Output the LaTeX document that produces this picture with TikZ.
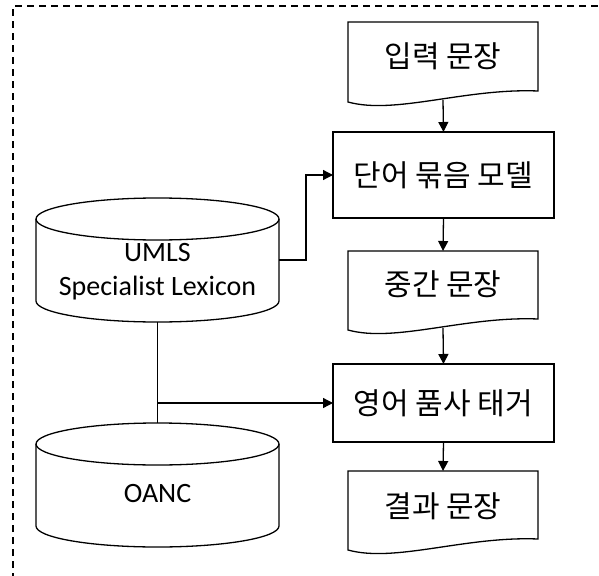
\documentclass[tikz,border=0pt]{standalone}
\usepackage{fontspec}
\setmainfont{Carlito}
\newfontfamily\kr{Noto Sans CJK KR}
\usetikzlibrary{arrows.meta,calc}

\tikzset{
  outline/.style={line width=1.3pt, draw=black},
  holder/.style={rectangle, inner sep=0pt, outer sep=0pt},
  docbox/.style={holder, minimum width=190pt, font=\kr\fontsize{30}{36}\selectfont},
  procbox/.style={holder, outline, minimum width=221pt, font=\kr\fontsize{30}{36}\selectfont},
  drum/.style={holder, minimum width=243pt, minimum height=124pt, align=center,
               font=\fontsize{28}{34}\selectfont},
  flow/.style={line width=1.3pt, -{Triangle[length=10pt,width=10pt]}},
  wire/.style={line width=1.3pt},
  frame/.style={line width=1.2pt, dash pattern=on 7pt off 5pt}
}

% text whose baseline sits a given distance from the node centre
\newcommand\basedat[2]{\raisebox{#1}[0pt][0pt]{#2}}

% document outline with a wavy lower edge, drawn round a placeholder node
\newcommand\wavydoc[1]{%
  \draw[outline] ($(#1.south west)+(0,-2)$) -- (#1.north west) -- (#1.north east)
    -- ($(#1.south east)+(0,9)$)
    .. controls ($(#1.south west)+(117,12)$) and ($(#1.south west)+(47,-15)$)
    .. ($(#1.south west)+(0,-2)$) -- cycle;}

% database drum, drawn round a placeholder node
\newcommand\drumshape[1]{%
  \draw[outline] ($(#1.north)+(0,-21)$) ellipse [x radius=121.5pt, y radius=21pt];
  \draw[outline] ($(#1.north west)+(0,-21)$) -- ($(#1.south west)+(0,21)$)
    arc [start angle=180, end angle=360, x radius=121.5pt, y radius=21pt]
    -- ($(#1.north east)+(0,-21)$);}

\begin{document}
\begin{tikzpicture}[x=1pt,y=1pt]
\useasboundingbox (0,0) rectangle (599,-575);
\begin{scope}
  \clip (0,0) rectangle (599,-575);
  \draw[frame] (13,-700) -- (13,-6) -- (700,-6);
\end{scope}

% processing column
\node[docbox, minimum height=78pt] (inp) at (443,-61) {\basedat{-7pt}{입력 문장}};
\node[procbox, minimum height=86pt] (bag) at (443.5,-175) {단어 묶음 모델};
\node[docbox, minimum height=77pt] (mid) at (443,-289.5) {\basedat{-6pt}{중간 문장}};
\node[procbox, minimum height=78pt] (tag) at (443.5,-403) {영어 품사 태거};
\node[docbox, minimum height=77pt] (res) at (443,-509.5) {\basedat{-8pt}{결과 문장}};

\wavydoc{inp}
\wavydoc{mid}
\wavydoc{res}

% resources
\node[drum] (umls) at (157.5,-260)
  {\basedat{-35pt}{\begin{tabular}[b]{@{}c@{}}UMLS\\Specialist Lexicon\end{tabular}}};
\node[drum] (oanc) at (157.5,-485) {\basedat{-17.7pt}{OANC}};

\drumshape{umls}
\drumshape{oanc}

% connectors
\draw[flow] (inp.south) -- (bag.north);
\draw[flow] (bag.south) -- (mid.north);
\draw[flow] (mid.south) -- (tag.north);
\draw[flow] (tag.south) -- (res.north);
\draw[flow] (umls.east) -- ++(27,0) |- (bag.west);
\draw[wire] (umls.south) -- (oanc.north);
\draw[flow] (umls.south |- tag.west) -- (tag.west);
\end{tikzpicture}
\end{document}
